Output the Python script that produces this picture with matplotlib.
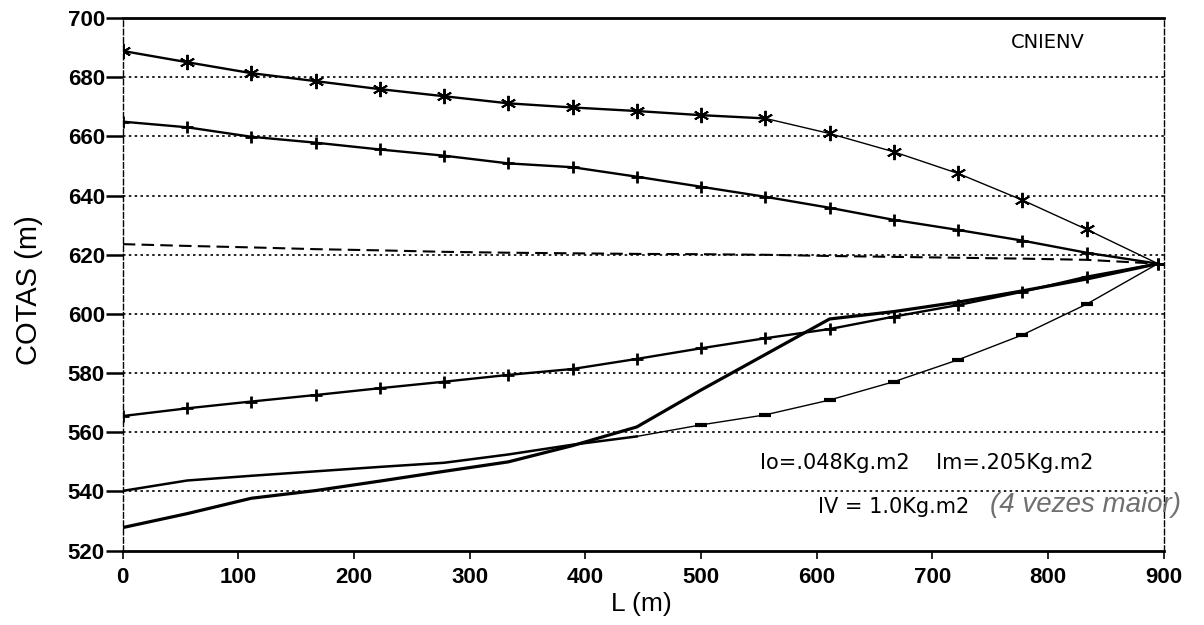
import matplotlib
matplotlib.use("Agg")
import matplotlib.pyplot as plt

plt.rcParams['font.family'] = ['Liberation Sans', 'DejaVu Sans']

# Distance along the profile (m)
L = [0, 55.6, 111.1, 166.7, 222.2, 277.8, 333.3, 388.9, 444.4, 500.0,
     555.6, 611.1, 666.7, 722.2, 777.8, 833.3, 895.0]

# Series values (m)
cota_ast = [688.9, 685.1, 681.4, 678.7, 676.0, 673.6, 671.2, 669.8, 668.6, 667.2,
            666.1, 661.0, 654.8, 647.5, 638.5, 628.6, 617.0]
cota_plus_top = [665.0, 663.1, 659.9, 657.9, 655.6, 653.5, 650.9, 649.6, 646.4, 643.0,
                 639.6, 635.9, 631.8, 628.4, 624.8, 620.7, 617.0]
cota_dashed = [623.6, 623.0, 622.5, 621.9, 621.5, 621.0, 620.7, 620.5, 620.3, 620.2,
               620.0, 619.6, 619.3, 619.0, 618.7, 618.3, 617.0]
cota_plus_low = [565.5, 568.1, 570.4, 572.6, 574.9, 577.1, 579.4, 581.4, 584.8, 588.4,
                 591.8, 594.9, 599.1, 603.0, 607.5, 612.6, 617.0]
cota_dash_mk = [540.2, 543.7, 545.3, 546.8, 548.3, 549.7, 552.5, 555.8, 558.6, 562.5,
                565.9, 570.9, 577.1, 584.5, 592.9, 603.3, 617.0]
cota_thick = [527.8, 532.5, 537.7, 540.3, 543.5, 546.8, 550.0, 555.5, 561.8, 574.3,
              586.3, 598.3, 600.8, 604.0, 607.8, 611.8, 617.0]

x_ticks = [0, 100, 200, 300, 400, 500, 600, 700, 800, 900]
y_ticks = [520, 540, 560, 580, 600, 620, 640, 660, 680, 700]

fig = plt.figure(figsize=(12.04, 6.25), dpi=100)
ax = fig.add_axes([0.102, 0.119, 0.8645, 0.852])
ax.set_xlim(0, 900)
ax.set_ylim(520, 700)

# horizontal dotted gridlines
for yv in y_ticks[1:-1]:
    ax.axhline(yv, color='black', lw=1.2, ls=(0, (1.5, 2.0)), zorder=1)

# asterisk series: thicker on the left, thinner after the bend
ax.plot(L[:11], cota_ast[:11], color='black', lw=1.7, zorder=3)
ax.plot(L[10:], cota_ast[10:], color='black', lw=1.0, zorder=3)
ax.plot(L[:-1], cota_ast[:-1], ls='none', color='black', marker=(6, 2, 0), ms=11,
        mew=1.4, zorder=4)

ax.plot(L, cota_plus_top, color='black', lw=1.7, marker='+', ms=9, mew=2.0, zorder=3)
ax.plot(L, cota_dashed, color='black', lw=1.5, ls=(0, (6, 3)), zorder=3)
ax.plot(L, cota_plus_low, color='black', lw=1.7, marker='+', ms=9, mew=2.0, zorder=3)

# series with dash markers: thick at left, thin at right
ax.plot(L[:9], cota_dash_mk[:9], color='black', lw=1.8, zorder=3)
ax.plot(L[8:], cota_dash_mk[8:], color='black', lw=1.0, zorder=3)
ax.plot(L[9:16], cota_dash_mk[9:16], ls='none', color='black', marker='_', ms=9,
        mew=3.0, zorder=4)

ax.plot(L, cota_thick, color='black', lw=2.3, zorder=3)

# spines
for s in ('top', 'bottom'):
    ax.spines[s].set_linewidth(2.0)
for s in ('left', 'right'):
    ax.spines[s].set_linewidth(1.0)
    ax.spines[s].set_linestyle((0, (4, 2)))

ax.set_xticks(x_ticks)
ax.set_yticks(y_ticks)
ax.tick_params(axis='x', direction='out', length=6, width=1.2, labelsize=16, pad=6)
ax.tick_params(axis='y', direction='out', length=12, width=1.8, labelsize=16, pad=1)
for lab in ax.get_xticklabels() + ax.get_yticklabels():
    lab.set_fontweight('bold')

fig.text(0.533, 1 - 604 / 625, 'L (m)', ha='center', va='center', fontsize=19)
fig.text(29 / 1204, 1 - 290 / 625, 'COTAS (m)', ha='center', va='center',
         rotation=90, fontsize=21)

ann_font = ['DejaVu Sans']
ax.text(768, 691.7, 'CNIENV', ha='left', va='center', fontsize=14, family=ann_font)
ax.text(551, 549.7, 'Io=.048Kg.m2    Im=.205Kg.m2', ha='left', va='center',
        fontsize=15, family=ann_font)
ax.text(601, 534.6, 'IV = 1.0Kg.m2', ha='left', va='center', fontsize=15,
        family=ann_font)
fig.text(990 / 1204, 1 - 505 / 625, '(4 vezes maior)', ha='left', va='center',
         fontsize=20, style='italic', color='#707070')

fig.savefig('out.png', dpi=100)
